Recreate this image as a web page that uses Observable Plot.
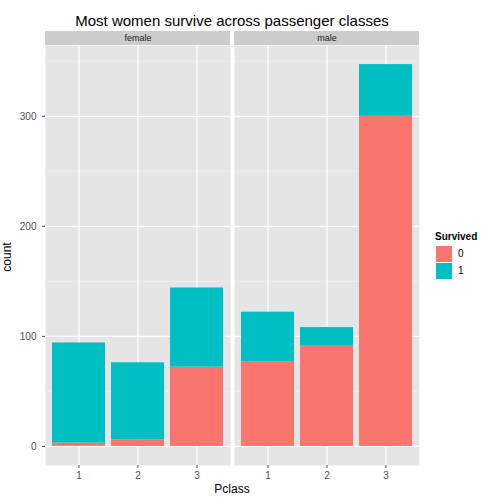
<!DOCTYPE html>
<html><head><meta charset="utf-8">
<script src="https://cdn.jsdelivr.net/npm/d3@7"></script>
<script src="https://cdn.jsdelivr.net/npm/@observablehq/plot@0.6"></script>
<style>
body{margin:0;font-family:"Liberation Sans",Arial,sans-serif;background:#fff}
#wrap{position:relative;width:504px;height:504px}
#title{position:absolute;top:12px;left:45px;width:374px;text-align:center;font-size:15px}
#chart{position:absolute;top:31px;left:0}
#legend{position:absolute;left:435px;top:231px;font-size:10px}
.k{display:flex;align-items:center;height:17px}
.k span{display:inline-block;width:16px;height:16px;margin-right:5px;border:1px solid #fff}
#xl{position:absolute;top:482px;left:45px;width:374px;text-align:center;font-size:12px}
#yl{position:absolute;left:-8px;top:250px;font-size:12px;transform:rotate(-90deg)}
</style></head>
<body><div id="wrap">
<div id="title">Most women survive across passenger classes</div>
<div id="chart"></div>
<div id="xl">Pclass</div><div id="yl">count</div>
<div id="legend"><div style="font-weight:bold;margin-bottom:3px">Survived</div>
<div class="k"><span style="background:#F8766D"></span>0</div>
<div class="k"><span style="background:#00BFC4"></span>1</div></div>
</div>
<script>
const sexes = ["female","male"];
const classes = ["1","2","3"];
const died = {female:[3,6,72], male:[77,91,300]};
const survived = {female:[91,70,72], male:[45,17,47]};

const data = [];
for (const s of sexes) classes.forEach((c,i) => {
  data.push({sex:s, Pclass:c, Survived:"0", count:died[s][i]});
  data.push({sex:s, Pclass:c, Survived:"1", count:survived[s][i]});
});
const ymax = 364.35, ystrip = ymax + 14/1.1;

const chart = Plot.plot({
  width:504, height:473,
  marginLeft:45, marginRight:85, marginTop:14, marginBottom:39,
  style:{fontFamily:"Liberation Sans, Arial, sans-serif", fontSize:"10px", overflow:"visible"},
  fx:{domain:sexes, paddingInner:0.022, axis:null},
  x:{domain:classes, padding:0.1, label:null, tickSize:3},
  y:{domain:[-17.35, ymax], label:null, ticks:[0,100,200,300], tickSize:3},
  color:{domain:["0","1"], range:["#F8766D","#00BFC4"]},
  marks:[
    Plot.frame({fill:"#e5e5e5", stroke:null}),
    Plot.gridY([50,150,250,350], {stroke:"#f2f2f2", strokeOpacity:1, strokeWidth:0.6}),
    Plot.gridY([0,100,200,300], {stroke:"#fff", strokeOpacity:1, strokeWidth:1.2}),
    Plot.gridX(classes, {stroke:"#fff", strokeOpacity:1, strokeWidth:1.2}),
    Plot.barY(data, {fx:"sex", x:"Pclass", y:"count", fill:"Survived", inset:0}),
    Plot.rect(sexes.map(s=>({sex:s})), {fx:"sex", y1:ymax, y2:ystrip, fill:"#cccccc", clip:false}),
    Plot.text(sexes, {fx:d=>d, y:(ymax+ystrip)/2, frameAnchor:"middle", text:d=>d, fill:"#1a1a1a", fontSize:9}),
    Plot.axisX({color:"#4d4d4d", tickSize:3, tickPadding:3, label:null}),
    Plot.axisY({color:"#4d4d4d", tickSize:3, ticks:[0,100,200,300], label:null})
  ]
});
document.getElementById("chart").append(chart);
</script>
</body></html>
